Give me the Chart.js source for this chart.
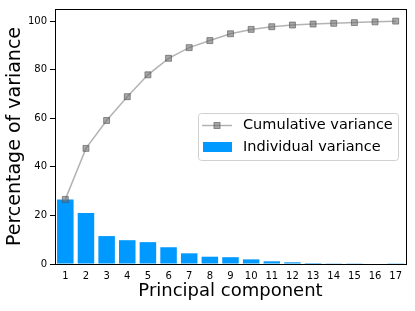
<!DOCTYPE html>
<html>
<head>
<meta charset="utf-8">
<script src="https://cdn.jsdelivr.net/npm/chart.js@4.4.0/dist/chart.umd.min.js"></script>
<style>
  html, body { margin: 0; padding: 0; background: #fff; }
  #wrap { width: 415px; height: 311px; }
</style>
</head>
<body>
<div id="wrap"><canvas id="chart" width="415" height="311"></canvas></div>
<script>
// === Données ===
const components = ["1", "2", "3", "4", "5", "6", "7", "8", "9", "10", "11", "12", "13", "14", "15", "16", "17"];
const individualVariance = [26.6, 21.0, 11.5, 9.8, 9.0, 6.9, 4.4, 3.0, 2.8, 1.9, 1.1, 0.7, 0.4, 0.3, 0.3, 0.2, 0.1];
const cumulativeVariance = [26.6, 47.6, 59.1, 68.9, 77.9, 84.7, 89.1, 92.0, 94.8, 96.6, 97.7, 98.4, 98.8, 99.1, 99.4, 99.7, 100];
const yTicks = [0, 20, 40, 60, 80, 100];

const FONT = "'DejaVu Sans', sans-serif";

// cadre noir autour de la zone du graphique + légende dans le graphique
const framePlugin = {
    id: 'frame',
    afterDraw(chart) {
        const ctx = chart.ctx;
        const a = chart.chartArea;
        ctx.save();
        ctx.strokeStyle = '#000';
        ctx.lineWidth = 1;
        ctx.strokeRect(a.left + 0.5, a.top + 0.5, a.right - a.left, a.bottom - a.top);

        // légende
        const x = 198, y = 113, w = 200, h = 47;
        ctx.fillStyle = 'rgba(255,255,255,0.8)';
        ctx.strokeStyle = '#d0d0d0';
        ctx.beginPath();
        ctx.roundRect(x + 0.5, y + 0.5, w, h, 3);
        ctx.fill();
        ctx.stroke();

        // ligne cumulée
        ctx.strokeStyle = 'rgba(128,128,128,0.6)';
        ctx.lineWidth = 1.5;
        ctx.beginPath();
        ctx.moveTo(202, 125.5);
        ctx.lineTo(232, 125.5);
        ctx.stroke();
        ctx.fillStyle = 'rgba(110,110,110,0.6)';
        ctx.strokeStyle = 'rgba(80,80,80,0.6)';
        ctx.lineWidth = 1;
        ctx.fillRect(214, 122.5, 6, 6);
        ctx.strokeRect(214, 122.5, 6, 6);

        // barre individuelle
        ctx.fillStyle = '#0099ff';
        ctx.fillRect(203, 142, 29, 10);

        ctx.fillStyle = '#000';
        ctx.font = "14.5px " + FONT;
        ctx.textBaseline = 'middle';
        ctx.fillText("Cumulative variance", 243, 125.5);
        ctx.fillText("Individual variance", 243, 147);
        ctx.restore();
    }
};

new Chart(document.getElementById("chart"), {
    data: {
        labels: components,
        datasets: [
            {
                type: 'line',
                label: "Cumulative variance",
                data: cumulativeVariance,
                borderColor: 'rgba(128,128,128,0.6)',
                borderWidth: 1.5,
                pointStyle: 'rect',
                pointRadius: 4.2,
                pointBackgroundColor: 'rgba(110,110,110,0.6)',
                pointBorderColor: 'rgba(80,80,80,0.6)',
                pointBorderWidth: 1,
                tension: 0,
                order: 0
            },
            {
                type: 'bar',
                label: "Individual variance",
                data: individualVariance,
                backgroundColor: '#0099ff',
                barPercentage: 0.8,
                categoryPercentage: 1,
                order: 1
            }
        ]
    },
    options: {
        responsive: false,
        animation: false,
        layout: { padding: { top: 9, right: 9, left: 0, bottom: 0 } },
        plugins: {
            legend: { display: false },
            tooltip: { enabled: false }
        },
        scales: {
            x: {
                offset: true,
                grid: { display: false, drawOnChartArea: false, tickLength: 4 },
                border: { display: false },
                ticks: { color: '#000', font: { family: FONT, size: 10 }, padding: 2, maxRotation: 0, autoSkip: false },
                title: { display: true, text: "Principal component", color: '#000', font: { family: FONT, size: 18 }, padding: { top: 0, bottom: 9 } },
                afterFit(scale) { scale.height = 47; }
            },
            y: {
                min: 0,
                max: 105,
                afterBuildTicks(scale) { scale.ticks = yTicks.map(v => ({ value: v })); },
                grid: { drawOnChartArea: false, tickLength: 5, color: '#000' },
                border: { display: false },
                ticks: { color: '#000', font: { family: FONT, size: 10 }, padding: 3 },
                title: { display: true, text: "Percentage of variance", color: '#000', font: { family: FONT, size: 19 }, padding: { top: 4, bottom: 0 } },
                afterFit(scale) { scale.width = 55; }
            }
        }
    },
    plugins: [framePlugin]
});
</script>
</body>
</html>
